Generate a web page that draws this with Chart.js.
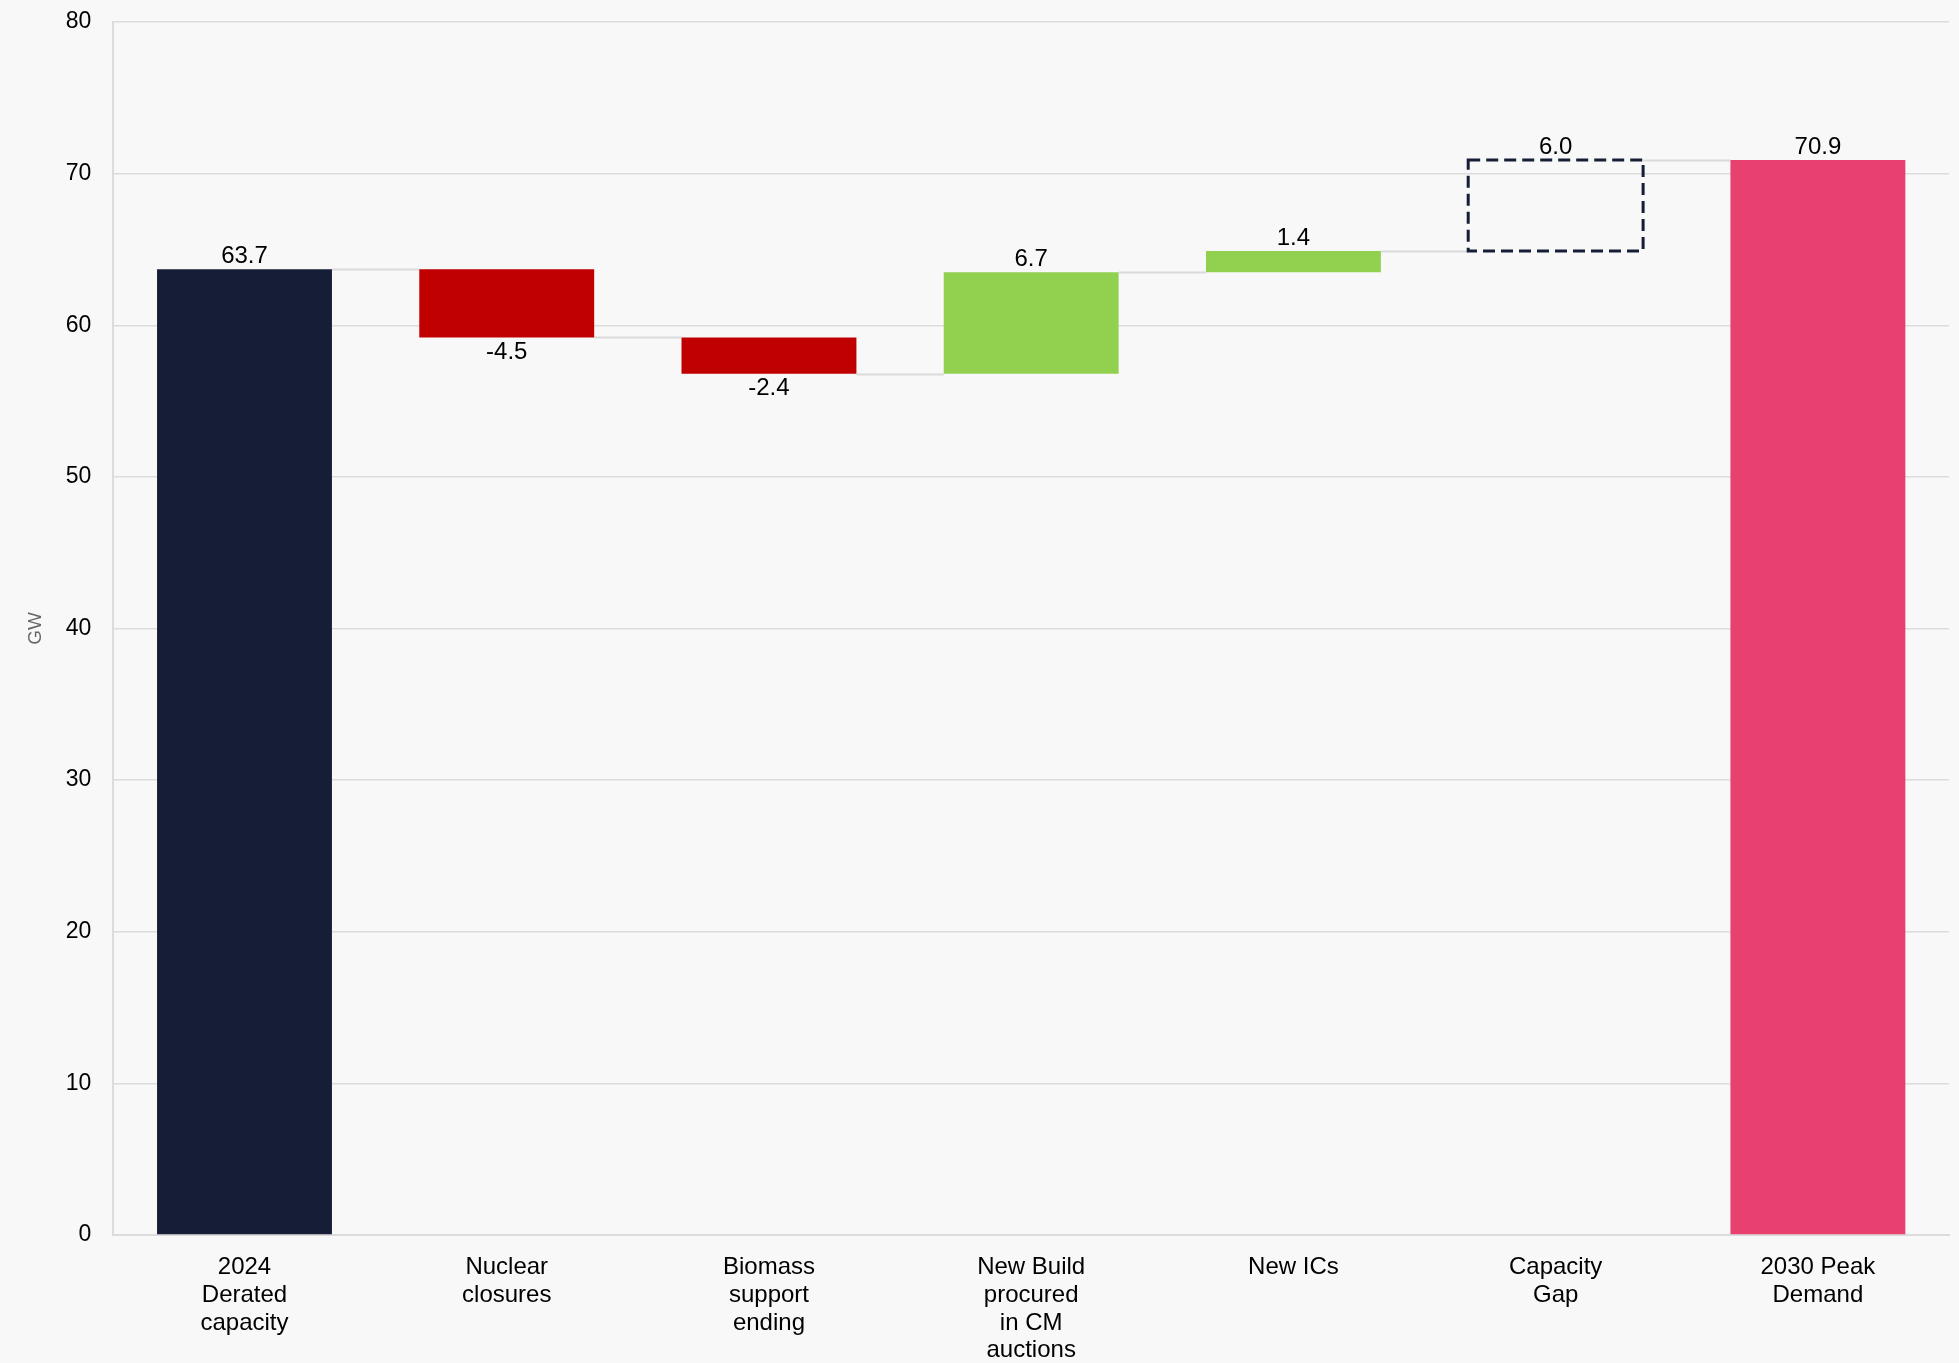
<!DOCTYPE html>
<html>
<head>
<meta charset="utf-8">
<script src="https://cdn.jsdelivr.net/npm/chart.js@4/dist/chart.umd.min.js"></script>
<style>
  html, body { margin: 0; padding: 0; background: #f8f8f8; }
  #wrap { width: 1959px; height: 1363px; }
</style>
</head>
<body>
<div id="wrap"><canvas id="waterfall"></canvas></div>
<script>
// categories and values (GW)
var categories = [
    ['2024', 'Derated', 'capacity'],
    ['Nuclear', 'closures'],
    ['Biomass', 'support', 'ending'],
    ['New Build', 'procured', 'in CM', 'auctions'],
    ['New ICs'],
    ['Capacity', 'Gap'],
    ['2030 Peak', 'Demand']
];
var changes = [63.7, -4.5, -2.4, 6.7, 1.4, 6.0, 70.9];
var kinds = ['total', 'delta', 'delta', 'delta', 'delta', 'gap', 'total'];
var yTicks = [0, 10, 20, 30, 40, 50, 60, 70, 80];

var colors = {
    total0: '#151e36',
    total1: '#e8406f',
    down: '#c00000',
    up: '#92d050',
    gap: '#151e36',
    connector: '#dadada',
    grid: '#dcdcdc'
};

// build floating bars [start, end]
var floating = [];
var barColors = [];
var running = 0;
changes.forEach(function (v, i) {
    if (kinds[i] === 'total') {
        floating.push([0, v]);
        running = v;
        barColors.push(i === 0 ? colors.total0 : colors.total1);
    } else {
        floating.push([running, running + v]);
        barColors.push(kinds[i] === 'gap' ? 'rgba(0,0,0,0)' : (v < 0 ? colors.down : colors.up));
        running = running + v;
    }
});

var waterfallPlugin = {
    id: 'waterfallExtras',
    beforeDatasetsDraw: function (chart) {
        var ctx = chart.ctx;
        var meta = chart.getDatasetMeta(0);
        var y = chart.scales.y;
        ctx.save();
        ctx.strokeStyle = colors.connector;
        ctx.lineWidth = 2;
        for (var i = 0; i < meta.data.length - 1; i++) {
            var a = meta.data[i], b = meta.data[i + 1];
            var level = floating[i][1];
            var py = Math.round(y.getPixelForValue(level)) + 0.5;
            ctx.beginPath();
            ctx.moveTo(a.x + a.width / 2, py);
            ctx.lineTo(b.x - b.width / 2, py);
            ctx.stroke();
        }
        ctx.restore();
    },
    afterDatasetsDraw: function (chart) {
        var ctx = chart.ctx;
        var meta = chart.getDatasetMeta(0);
        var y = chart.scales.y;
        ctx.save();
        meta.data.forEach(function (bar, i) {
            var top = y.getPixelForValue(Math.max(floating[i][0], floating[i][1]));
            var bottom = y.getPixelForValue(Math.min(floating[i][0], floating[i][1]));
            if (kinds[i] === 'gap') {
                ctx.setLineDash([12, 6]);
                ctx.strokeStyle = colors.gap;
                ctx.lineWidth = 3;
                ctx.strokeRect(bar.x - bar.width / 2, top, bar.width, bottom - top);
                ctx.setLineDash([]);
            }
            ctx.fillStyle = '#000';
            ctx.font = '24px "Liberation Sans", Arial, sans-serif';
            ctx.textAlign = 'center';
            var txt = changes[i].toFixed(1);
            if (changes[i] < 0) {
                ctx.textBaseline = 'top';
                ctx.fillText(txt, bar.x, bottom + 3);
            } else {
                ctx.textBaseline = 'bottom';
                ctx.fillText(txt, bar.x, top - 1);
            }
        });
        ctx.restore();
    }
};

new Chart(document.getElementById('waterfall'), {
    type: 'bar',
    data: {
        labels: categories,
        datasets: [{
            data: floating,
            backgroundColor: barColors,
            borderWidth: 0,
            barPercentage: 0.667,
            categoryPercentage: 1.0
        }]
    },
    options: {
        responsive: true,
        maintainAspectRatio: false,
        animation: false,
        layout: { padding: { top: 22, right: 10, left: 24, bottom: 0 } },
        plugins: {
            legend: { display: false },
            tooltip: { enabled: false }
        },
        scales: {
            x: {
                grid: { display: false, drawTicks: false },
                border: { color: colors.grid, width: 2 },
                afterFit: function (scale) { scale.height = 128; },
                ticks: {
                    color: '#000',
                    padding: 19,
                    maxRotation: 0,
                    autoSkip: false,
                    font: { family: '"Liberation Sans", Arial, sans-serif', size: 24, lineHeight: 1.15 }
                }
            },
            y: {
                min: 0,
                max: 80,
                afterBuildTicks: function (axis) {
                    axis.ticks = yTicks.map(function (v) { return { value: v }; });
                },
                afterFit: function (scale) { scale.paddingTop = 0; scale.paddingBottom = 0; },
                grid: { color: colors.grid, lineWidth: 1.5, drawTicks: false },
                border: { color: colors.grid, width: 2 },
                ticks: {
                    color: '#000',
                    padding: 22,
                    font: { family: '"Liberation Sans", Arial, sans-serif', size: 23 }
                },
                title: {
                    display: true,
                    text: 'GW',
                    color: '#666',
                    padding: { top: 0, bottom: -3 },
                    font: { family: '"Liberation Sans", Arial, sans-serif', size: 19 }
                }
            }
        }
    },
    plugins: [waterfallPlugin]
});
</script>
</body>
</html>
